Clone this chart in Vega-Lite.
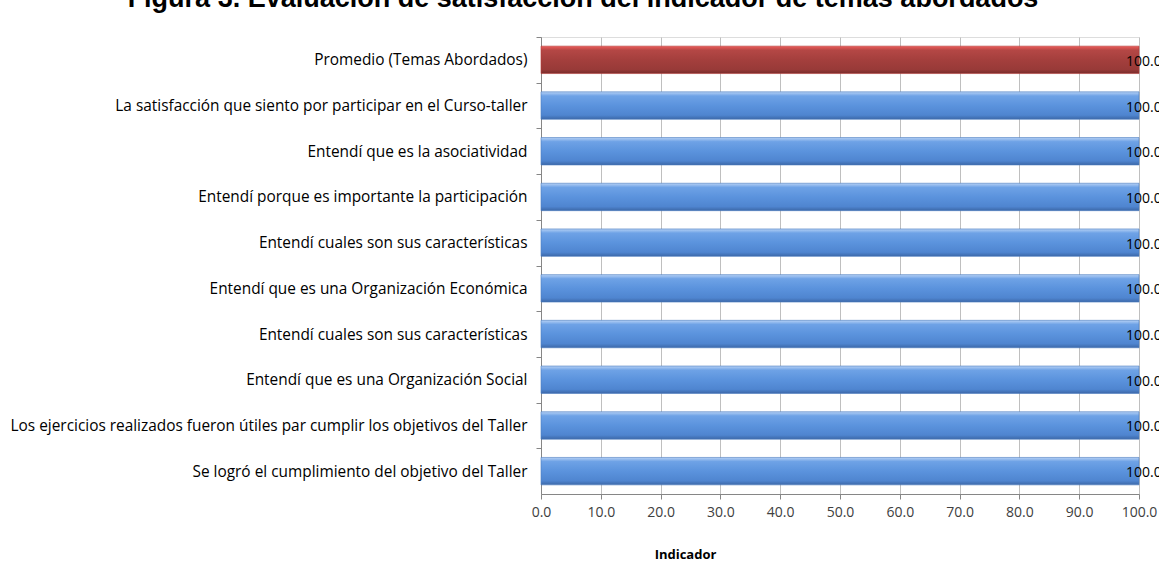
{
  "$schema": "https://vega.github.io/schema/vega-lite/v6.json",
  "width": 598,
  "height": 457,
  "autosize": "none",
  "padding": {"left": 541, "top": 37, "right": 20, "bottom": 83},
  "background": "white",
  "title": {
    "text": "Figura 3. Evaluación de satisfacción del indicador de temas abordados",
    "anchor": "middle",
    "frame": "group",
    "dx": -257,
    "offset": 3,
    "baseline": "alphabetic",
    "font": "Liberation Sans",
    "fontSize": 27,
    "fontWeight": "bold",
    "color": "#000000"
  },
  "data": {
    "values": [
      {"tema": "Promedio (Temas Abordados)", "valor": 100, "grupo": "Promedio"},
      {"tema": "La satisfacción que siento por participar en el Curso-taller", "valor": 100, "grupo": "Item"},
      {"tema": "Entendí que es la asociatividad", "valor": 100, "grupo": "Item"},
      {"tema": "Entendí porque es importante la participación", "valor": 100, "grupo": "Item"},
      {"tema": "Entendí cuales son sus características ", "valor": 100, "grupo": "Item"},
      {"tema": "Entendí que es una Organización Económica", "valor": 100, "grupo": "Item"},
      {"tema": "Entendí cuales son sus características", "valor": 100, "grupo": "Item"},
      {"tema": "Entendí que es una Organización Social", "valor": 100, "grupo": "Item"},
      {"tema": "Los ejercicios realizados fueron útiles par cumplir los objetivos del Taller", "valor": 100, "grupo": "Item"},
      {"tema": "Se logró el cumplimiento del objetivo del Taller", "valor": 100, "grupo": "Item"}
    ]
  },
  "encoding": {
    "y": {
      "field": "tema",
      "type": "nominal",
      "sort": [
        "Promedio (Temas Abordados)",
        "La satisfacción que siento por participar en el Curso-taller",
        "Entendí que es la asociatividad",
        "Entendí porque es importante la participación",
        "Entendí cuales son sus características ",
        "Entendí que es una Organización Económica",
        "Entendí cuales son sus características",
        "Entendí que es una Organización Social",
        "Los ejercicios realizados fueron útiles par cumplir los objetivos del Taller",
        "Se logró el cumplimiento del objetivo del Taller"
      ],
      "scale": {"paddingInner": 0.4, "paddingOuter": 0.2},
      "axis": {
        "title": null,
        "labelFont": "Open Sans",
        "labelFontSize": 15.4,
        "labelColor": "#000000",
        "labelPadding": 9,
        "labelLimit": 600,
        "tickSize": 5,
        "tickColor": "#868686",
        "domainColor": "#868686",
        "tickOffset": -22.85,
        "labelOffset": 22.85,
        "grid": false
      }
    },
    "x": {
      "field": "valor",
      "type": "quantitative",
      "scale": {"domain": [0, 100], "nice": false},
      "axis": {
        "title": "Indicador",
        "titleFont": "Open Sans",
        "titleFontSize": 13,
        "titleFontWeight": "bold",
        "titleColor": "#000000",
        "titleX": 144,
        "titleY": 60,
        "titleAlign": "center",
        "titleBaseline": "middle",
        "values": [0, 10, 20, 30, 40, 50, 60, 70, 80, 90, 100],
        "format": ".1f",
        "labelFont": "Open Sans",
        "labelFontSize": 14,
        "labelColor": "#404040",
        "labelPadding": 6,
        "tickSize": 5,
        "tickColor": "#868686",
        "domainColor": "#868686",
        "grid": true,
        "gridColor": "#bfbfbf",
        "labelFlush": false
      }
    }
  },
  "layer": [
    {
      "transform": [{"filter": "datum.grupo == 'Item'"}],
      "mark": {
        "type": "bar",
        "stroke": "#4a7cc0",
        "strokeWidth": 0.6,
        "color": {
          "gradient": "linear",
          "x1": 0, "y1": 0, "x2": 0, "y2": 1,
          "stops": [
            {"offset": 0, "color": "#b6d1f5"},
            {"offset": 0.15, "color": "#6ea2e6"},
            {"offset": 0.5, "color": "#5b93dd"},
            {"offset": 0.85, "color": "#4f85d0"},
            {"offset": 1, "color": "#3c68a8"}
          ]
        }
      }
    },
    {
      "transform": [{"filter": "datum.grupo == 'Promedio'"}],
      "mark": {
        "type": "bar",
        "stroke": "#b23a38",
        "strokeWidth": 0.6,
        "color": {
          "gradient": "linear",
          "x1": 0, "y1": 0, "x2": 0, "y2": 1,
          "stops": [
            {"offset": 0, "color": "#ee5a58"},
            {"offset": 0.15, "color": "#b44745"},
            {"offset": 0.5, "color": "#a43f3d"},
            {"offset": 0.85, "color": "#983a38"},
            {"offset": 1, "color": "#7a2c2b"}
          ]
        }
      }
    },
    {
      "mark": {
        "type": "text",
        "align": "left",
        "baseline": "middle",
        "dx": -13,
        "dy": 2,
        "font": "Open Sans",
        "fontSize": 14,
        "color": "#000000"
      },
      "encoding": {
        "text": {"field": "valor", "type": "quantitative", "format": ".1f"}
      }
    }
  ]
}
